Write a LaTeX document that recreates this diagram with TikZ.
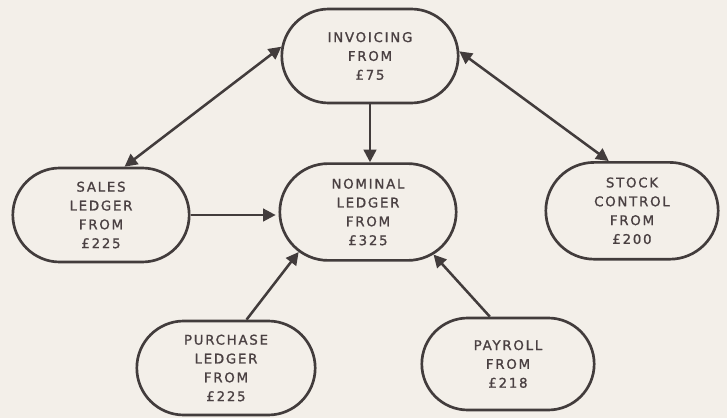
\documentclass[tikz,border=0pt]{standalone}
\usepackage{fontspec}
\newfontfamily\boxfont[LetterSpace=13,FakeBold=1.1]{DejaVu Sans}
\usetikzlibrary{arrows.meta,shapes.misc}
\definecolor{paper}{RGB}{243,239,233}
\definecolor{ink}{RGB}{66,60,60}
\definecolor{txt}{RGB}{74,64,66}

\begin{document}
\begin{tikzpicture}[
    box/.style={rounded rectangle, draw=ink, line width=1.9pt,
                minimum width=4.55cm, minimum height=2.35cm, inner sep=2pt,
                font=\boxfont\fontsize{9.5}{13.4}\selectfont, text=txt, align=center},
    arr/.style={-{Triangle[length=9pt,width=9pt]}, line width=1.8pt, ink},
    darr/.style={{Triangle[length=9pt,width=9pt]}-{Triangle[length=9pt,width=9pt]}, line width=1.8pt, ink}]

    \fill[paper] (0,0) rectangle (18.175,-10.45);
    \useasboundingbox (0,0) rectangle (18.175,-10.45);

    % modules
    \node[box] (inv) at (9.25,-1.4) {INVOICING\\FROM\\£75};
    \node[box] (sales) at (2.525,-5.375) {SALES\\LEDGER\\FROM\\£225};
    \node[box, minimum height=2.42cm] (nom) at (9.2,-5.3) {NOMINAL\\LEDGER\\FROM\\£325};
    \node[box, minimum width=4.45cm, minimum height=2.42cm] (stock) at (15.8,-5.27) {STOCK\\CONTROL\\FROM\\£200};
    \node[box, minimum width=4.6cm] (purch) at (5.65,-9.2) {PURCHASE\\LEDGER\\FROM\\£225};
    \node[box, minimum width=4.45cm, minimum height=2.3cm] (pay) at (12.7,-9.1) {PAYROLL\\FROM\\£218};

    % links
    \draw[darr] (sales.64) -- (inv.174);
    \draw[darr] (inv.3) -- (stock.115);
    \draw[arr] (inv.south) -- (inv.south |- nom.north);
    \draw[arr, shorten >=2pt] (sales.east) -- (sales.east -| nom.west);
    \draw[arr] (purch.67) -- (nom.210);
    \draw[arr] (pay.111) -- (nom.327);
\end{tikzpicture}
\end{document}
